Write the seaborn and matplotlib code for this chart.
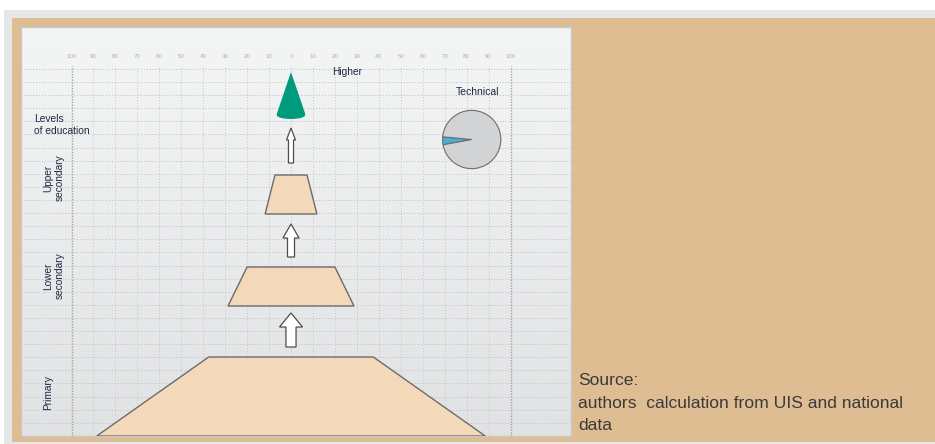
import numpy as np
import seaborn as sns
from matplotlib import pyplot as plt
from matplotlib.colors import LinearSegmentedColormap
from matplotlib.patches import Rectangle, Ellipse

# values (half widths, in % on each side of 0)
levels = ["Primary", "Lower\nsecondary", "Upper\nsecondary"]
entry_pct = [88.5, 28.7, 11.8]
exit_pct = [37.5, 20.0, 7.3]
higher_pct = 6.5
technical_share = [4.4, 95.6]
tick_values = [-100, -90, -80, -70, -60, -50, -40, -30, -20, -10, 0,
               10, 20, 30, 40, 50, 60, 70, 80, 90, 100]
tick_labels = [str(abs(v)) for v in tick_values]
source_lines = ["Source:", "authors  calculation from UIS and national", "data"]

# layout of the stack (y is pixels up from the panel bottom)
band_bottom = [0, 130, 222]
band_height = [79, 39, 39]
arrow_base = [89, 179, 273]
arrow_len = [34, 33, 35]
arrow_head_w = [10.5, 7.3, 4.1]
arrow_shaft_w = [4.6, 3.2, 2.3]
arrow_head_len = [14, 14, 12]

W, H = 935, 444


def main():
    sns.set_theme(style="white")
    plt.rcParams['font.family'] = ['Liberation Sans', 'DejaVu Sans']

    fig = plt.figure(figsize=(W / 100, H / 100), dpi=100)
    fig.patch.set_facecolor("white")

    # grey frame and tan box behind the panel
    fig.patches.append(Rectangle((4 / W, 0), 1, (H - 10) / H, transform=fig.transFigure,
                                 facecolor="#e6e7e9", edgecolor="none", zorder=-3))
    fig.patches.append(Rectangle((12 / W, 2 / H), 1, (H - 20) / H, transform=fig.transFigure,
                                 facecolor="#dfbd93", edgecolor="none", zorder=-2))

    ax = fig.add_axes([21 / W, 8 / H, 550 / W, 409 / H])
    x0, x1 = (21 - 291) / 2.195, (571 - 291) / 2.195
    ax.set_xlim(x0, x1)
    ax.set_ylim(0, 409)

    # soft grey gradient of the panel
    cmap = LinearSegmentedColormap.from_list("panel", ["#f4f5f5", "#e1e2e4"])
    ax.imshow(np.linspace(0, 1, 256).reshape(-1, 1), cmap=cmap, aspect="auto",
              extent=(x0, x1, 0, 409), origin="upper", zorder=0)

    # dotted grid
    for y in 367 - 13.1 * np.arange(28):
        ax.axhline(y, color="#bdbdbd", lw=0.7, ls=(0, (1, 2)), zorder=1)
    for v in tick_values:
        outer = abs(v) == 100
        ax.vlines(v, 0, 370, color="#a3a3a3" if outer else "#c6c6c6",
                  lw=1.0 if outer else 0.7, ls=(0, (1, 1)) if outer else (0, (1, 2)), zorder=1)
    for v, lab in zip(tick_values, tick_labels):
        ax.text(v, 379, lab, ha="center", va="center", fontsize=4.4, color="#b0b0b0")

    # trapezoids for each level
    for i in range(len(levels)):
        b, h = band_bottom[i], band_height[i]
        xs = [-entry_pct[i], entry_pct[i], exit_pct[i], -exit_pct[i]]
        ys = [b, b, b + h, b + h]
        ax.fill(xs, ys, facecolor="#f3d9b9", edgecolor="#6b6b6b", lw=1.0, zorder=3)

    # hollow arrows between levels
    for i in range(3):
        ax.arrow(0, arrow_base[i], 0, arrow_len[i], width=arrow_shaft_w[i],
                 head_width=arrow_head_w[i], head_length=arrow_head_len[i],
                 length_includes_head=True, fc="white", ec="#4d4d4d", lw=0.9, zorder=3)

    # higher education cone
    ax.add_patch(Ellipse((0, 321), 2 * higher_pct, 8, facecolor="#009b7d",
                         edgecolor="none", zorder=3))
    ax.fill([-higher_pct, 0, higher_pct], [322, 364, 322], facecolor="#009b7d",
            edgecolor="none", zorder=3)

    txt = "#1f2a44"
    ax.text((346.7 - 291) / 2.195, 364, "Higher", ha="center", va="center",
            fontsize=7.3, color=txt)
    ax.text((477.5 - 291) / 2.195, 344, "Technical", ha="center", va="center",
            fontsize=7.5, color=txt)
    ax.text(-117.1, 311, "Levels\nof education", ha="left", va="center",
            fontsize=7.4, color=txt, linespacing=1.3)
    level_y = [44, 160, 258]
    level_x = [-110.7, -108.0, -108.0]
    for lab, lx, ly in zip(levels, level_x, level_y):
        ax.text(lx, ly, lab, rotation=90, ha="center", va="center",
                multialignment="center", fontsize=7.3, color=txt, linespacing=1.15)

    ax.set_xticks([])
    ax.set_yticks([])
    for s in ax.spines.values():
        s.set_color("#c8c8c8")
        s.set_linewidth(1.0)

    # technical share pie
    pax = fig.add_axes([441.7 / W, (H - 169.5) / H, 60 / W, 60 / H])
    pax.pie(technical_share, colors=["#4aaed8", "#d2d3d5"], startangle=174.7,
            wedgeprops=dict(edgecolor="#6d6d6d", linewidth=0.8))
    pax.set_xlim(-1.03, 1.03)
    pax.set_ylim(-1.03, 1.03)

    # source note
    for line, ypx in zip(source_lines, [380, 403, 425]):
        fig.text(578 / W, 1 - ypx / H, line, ha="left", va="center",
                 fontsize=12.6, color="#3a3a3a")

    fig.savefig("out.png", dpi=100)


main()
